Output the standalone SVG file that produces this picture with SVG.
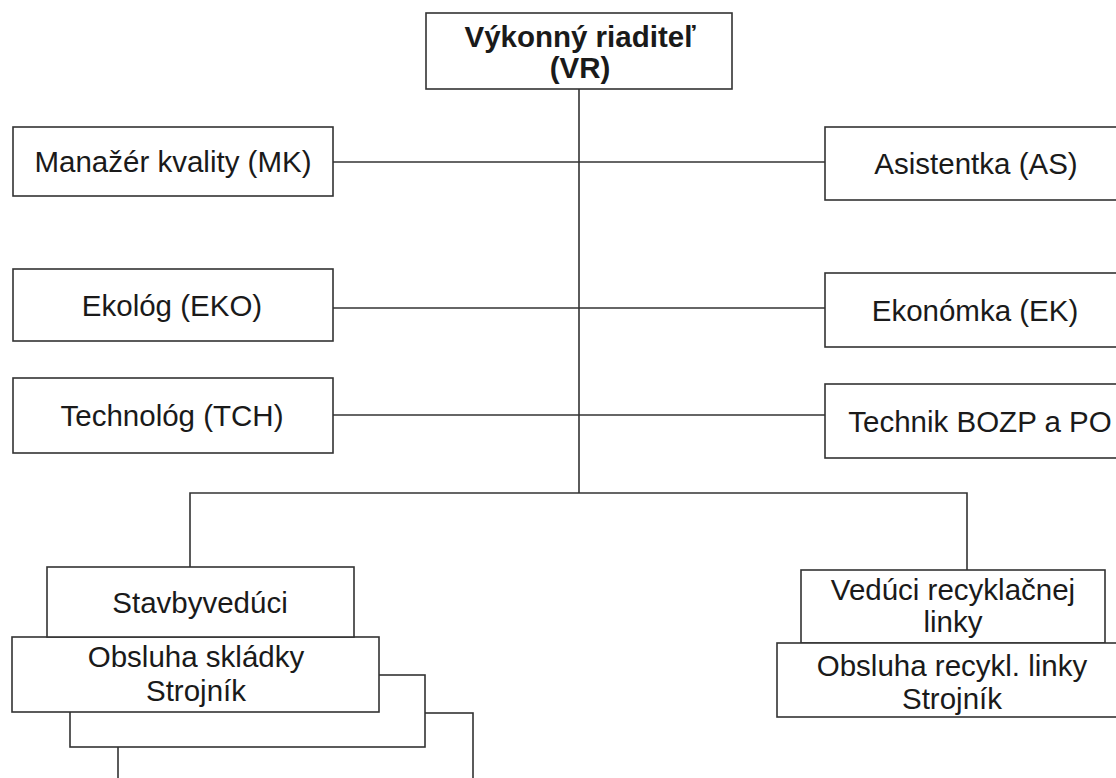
<svg xmlns="http://www.w3.org/2000/svg" width="1116" height="778" viewBox="0 0 1116 778">
<style>
.box{fill:#fff;stroke:#333;stroke-width:1.6}
.ln{fill:none;stroke:#333;stroke-width:1.6}
text{font-family:"Liberation Sans",Arial,sans-serif;font-size:29.5px;fill:#1a1a1a;text-anchor:middle}
.b{font-weight:bold}
</style>
<rect width="1116" height="778" fill="#fff"/>
<g id="connectors">
<path class="ln" d="M579 89V493"/>
<path class="ln" d="M333 162H825"/>
<path class="ln" d="M333 308H825"/>
<path class="ln" d="M333 415H825"/>
<path class="ln" d="M190 567V493H967V570"/>
</g>
<g id="vr">
<rect class="box" x="426" y="13" width="306" height="76"/>
<text class="b" x="580" y="47">Výkonný riaditeľ</text>
<text class="b" x="580" y="78">(VR)</text>
</g>
<g id="mk">
<rect class="box" x="13" y="127" width="320" height="69"/>
<text x="173" y="172">Manažér kvality (MK)</text>
</g>
<g id="as">
<rect class="box" x="825" y="127" width="300" height="73"/>
<text x="976" y="174">Asistentka (AS)</text>
</g>
<g id="eko">
<rect class="box" x="13" y="269" width="320" height="72"/>
<text x="172" y="316">Ekológ (EKO)</text>
</g>
<g id="ek">
<rect class="box" x="825" y="273" width="300" height="74"/>
<text x="975" y="321">Ekonómka (EK)</text>
</g>
<g id="tch">
<rect class="box" x="13" y="378" width="320" height="75"/>
<text x="172" y="426">Technológ (TCH)</text>
</g>
<g id="bozp">
<rect class="box" x="825" y="384" width="300" height="74"/>
<text x="980" y="432">Technik BOZP a PO</text>
</g>
<g id="obsluha-skladky">
<rect class="box" x="118" y="713" width="355" height="80"/>
<rect class="box" x="70" y="675" width="355" height="72"/>
<rect class="box" x="12" y="637" width="367" height="75"/>
<text x="196" y="667">Obsluha skládky</text>
<text x="196" y="701">Strojník</text>
</g>
<g id="stavbyveduci">
<rect class="box" x="47" y="567" width="307" height="70"/>
<text x="200" y="613">Stavbyvedúci</text>
</g>
<g id="veduci-linky">
<rect class="box" x="801" y="570" width="304" height="73"/>
<text x="953" y="600">Vedúci recyklačnej</text>
<text x="953" y="632">linky</text>
</g>
<g id="obsluha-linky">
<rect class="box" x="777" y="643" width="350" height="74"/>
<text x="952" y="676">Obsluha recykl. linky</text>
<text x="952" y="709">Strojník</text>
</g>
</svg>
